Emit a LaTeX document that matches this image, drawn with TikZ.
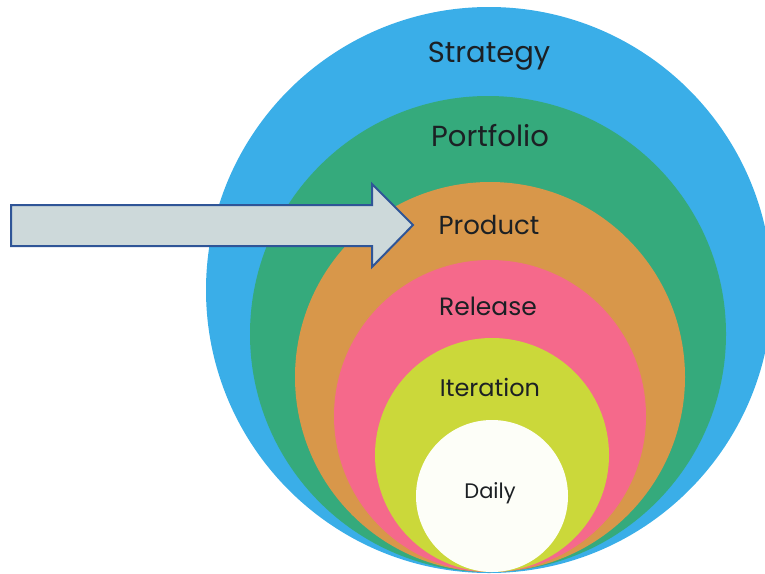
\documentclass[tikz,border=0pt]{standalone}
\usepackage{fontspec}
\setmainfont{Poppins}
\usepackage{tikz}
\definecolor{strategyblue}{HTML}{3AAEE8}
\definecolor{portfoliogreen}{HTML}{35AA7C}
\definecolor{productorange}{HTML}{D8974A}
\definecolor{releasepink}{HTML}{F5698B}
\definecolor{iterationlime}{HTML}{CBD83A}
\definecolor{dailywhite}{HTML}{FDFEF8}
\definecolor{arrowfill}{HTML}{CDD9DA}
\definecolor{arrowline}{HTML}{2F5597}
\definecolor{labeltext}{HTML}{1C2024}

\begin{document}
\begin{tikzpicture}[x=1pt,y=-1pt,
    level/.style={text=labeltext,inner sep=0pt}]
            \useasboundingbox (0,0) rectangle (765,573);
            % Draw nested circles, all touching at the bottom
            \fill[strategyblue] (489,290) circle (283);
            \fill[portfoliogreen] (488,334) circle (238);
            \fill[productorange] (490,377) circle (195);
            \fill[releasepink] (490,416) circle (156);
            \fill[iterationlime] (492,455) circle (117);
            \fill[dailywhite] (492,496) circle (76);
            % Label levels
            \node[level,font=\fontsize{29}{32}\selectfont] (strategy) at (489,56) {Strategy};
            \node[level,font=\fontsize{29}{32}\selectfont] (portfolio) at (490,136) {Portfolio};
            \node[level,font=\fontsize{26}{29}\selectfont] (product) at (489,225) {Product};
            \node[level,font=\fontsize{25}{28}\selectfont] (release) at (488,306) {Release};
            \node[level,font=\fontsize{24}{27}\selectfont] (iteration) at (490,387) {Iteration};
            \node[level,font=\fontsize{21}{24}\selectfont] (daily) at (490,493) {Daily};
            % Draw pointer arrow
            \coordinate (tip) at (413,225);
            \draw[arrowline,fill=arrowfill,line width=2pt,line join=miter]
                (11,205) -- (372,205) -- (372,184) -- (tip) -- (372,267) -- (372,246) -- (11,246) -- cycle;
        \end{tikzpicture}
\end{document}
